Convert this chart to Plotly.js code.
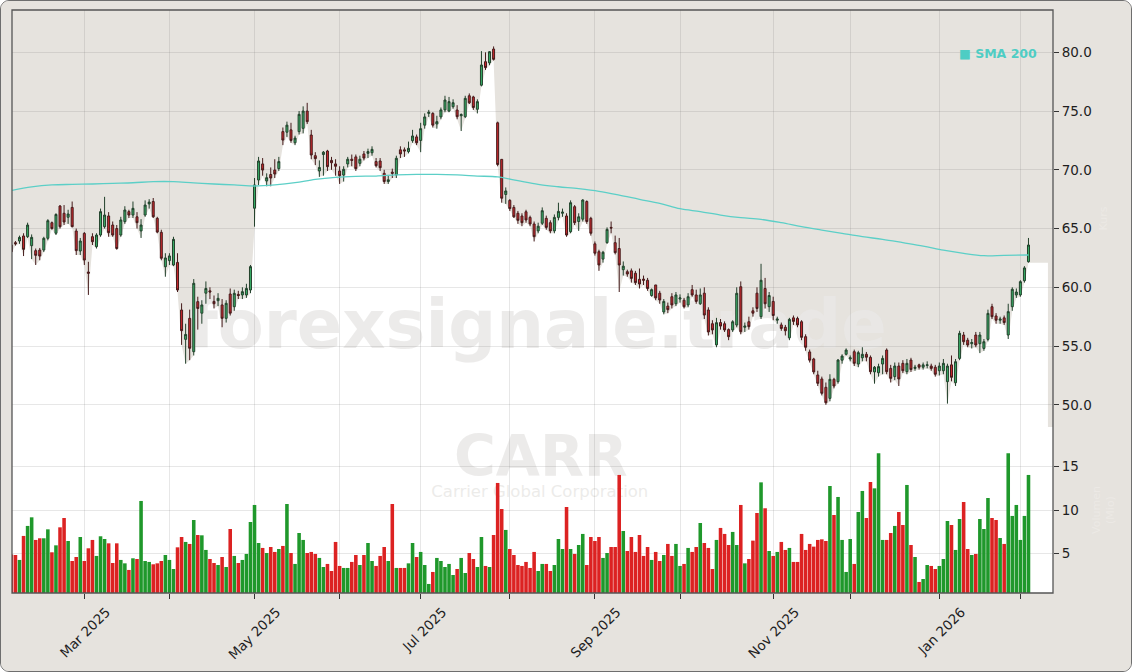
<!DOCTYPE html>
<html><head><meta charset="utf-8">
<script src="https://cdn.plot.ly/plotly-3.0.1.min.js"></script>
<style>
html,body{margin:0;padding:0;background:#ffffff;}
#wrap{position:absolute;left:0;top:0;width:1130px;height:670px;border:1px solid #6e6e6e;border-radius:9px;overflow:hidden;background:#e6e3de;}
#chart{width:1130px;height:670px;}
</style></head>
<body><div id="wrap"><div id="chart"></div></div>
<script>
// ---------- DATA ----------
const holidays = ['2025-02-17','2025-04-18','2025-05-26','2025-06-19','2025-07-04','2025-09-01',
  '2025-11-27','2025-12-25','2026-01-01','2026-01-19'];
const firstDay = '2025-02-04';
const lastDay = '2026-02-04';

const open = [63.60,63.80,63.94,64.37,64.31,63.54,63.12,63.17,63.17,64.17,
65.50,64.60,66.92,66.30,65.96,66.80,64.79,63.09,64.59,61.30,
64.31,63.46,64.45,65.16,66.07,65.30,65.00,64.45,65.59,66.44,
66.15,66.00,64.80,66.15,67.10,67.30,65.87,64.68,61.75,62.27,
61.90,62.12,58.07,55.57,57.36,54.52,58.78,57.80,59.50,59.70,
58.80,58.86,58.50,57.36,59.43,58.35,59.40,59.35,59.35,59.77,
66.73,69.13,70.50,69.05,69.60,69.98,70.10,73.25,73.20,73.40,
72.30,73.25,73.53,75.00,72.96,71.20,69.90,71.30,71.60,70.80,
70.50,69.90,69.55,70.50,70.90,71.10,70.55,71.35,71.40,71.45,
70.70,70.75,69.70,69.00,69.80,69.56,71.70,71.70,71.55,72.48,
72.80,72.50,73.80,74.80,74.80,73.90,74.50,75.10,75.00,75.37,
75.09,74.60,74.52,76.30,76.20,75.15,77.20,79.20,79.10,80.28,
74.00,70.89,67.90,67.40,66.80,66.30,66.07,66.43,65.95,65.39,
64.80,65.45,65.87,65.50,64.80,65.95,66.30,66.07,64.73,66.86,
65.60,65.80,67.30,65.87,63.70,63.03,62.40,63.80,65.10,63.80,
63.30,61.50,61.33,61.40,61.20,60.68,60.70,60.60,59.30,60.20,
59.50,57.90,58.40,59.20,58.60,59.00,58.90,58.50,59.80,59.35,
58.60,59.50,58.07,56.90,55.10,57.00,56.90,56.40,56.37,56.79,
60.05,56.60,57.07,58.00,59.50,57.50,59.90,58.35,58.80,57.20,
56.80,56.60,55.70,57.40,57.35,57.07,55.80,54.50,53.90,52.54,
52.20,51.49,50.55,52.17,51.97,53.80,54.30,53.90,54.52,53.47,
54.00,54.30,54.04,52.80,52.73,53.47,54.66,53.10,52.40,53.30,
53.53,52.82,53.81,53.10,53.40,53.20,53.35,53.30,53.20,52.90,
52.90,51.97,53.40,51.88,53.95,55.94,55.50,55.20,55.94,55.20,
54.80,55.57,58.35,57.56,57.20,57.40,55.94,58.35,59.35,59.35,
60.56,62.18];

const high = [63.80,63.94,64.40,64.60,65.50,64.50,63.30,63.35,64.30,65.80,
65.60,66.30,67.00,67.00,66.60,67.30,65.00,64.20,64.70,62.17,
64.60,64.60,66.70,67.70,66.40,65.60,65.30,66.00,66.90,66.60,
67.30,66.40,65.80,67.40,67.50,67.60,66.00,64.90,62.90,62.90,
64.30,62.90,58.64,56.90,58.10,60.70,59.20,58.90,60.50,60.00,
59.30,59.50,59.00,58.90,59.90,59.80,59.70,60.00,60.30,61.90,
69.30,71.10,71.00,69.70,70.20,70.90,71.10,73.60,74.10,74.00,
72.90,75.00,75.40,75.70,73.40,71.50,70.80,71.60,71.70,71.10,
70.90,70.30,70.30,71.10,71.30,71.30,71.20,71.60,71.80,72.00,
71.00,71.00,70.00,69.50,70.10,71.20,72.00,71.90,72.40,73.40,
73.00,74.00,74.80,75.10,74.90,74.60,75.30,76.30,76.20,76.00,
75.50,74.80,76.30,76.50,76.30,76.00,80.10,80.00,80.10,80.50,
74.10,70.90,68.50,67.50,67.00,66.50,66.30,66.60,66.10,65.60,
65.50,66.80,66.10,65.70,66.20,67.20,66.70,66.30,67.40,67.00,
66.30,67.50,67.40,66.00,63.90,63.20,63.10,65.10,65.60,64.40,
64.20,62.20,61.50,61.60,61.40,61.60,61.00,60.80,59.90,60.20,
59.70,59.00,58.70,59.50,59.60,59.40,59.10,59.50,60.20,59.80,
59.90,60.00,58.30,57.20,57.40,57.30,57.10,56.50,57.20,60.00,
60.50,57.00,57.50,58.30,60.00,62.00,60.80,59.60,59.20,57.50,
57.00,56.80,57.40,57.60,57.50,57.20,56.00,54.70,54.00,52.90,
52.40,51.90,52.60,52.30,53.90,54.30,54.80,54.20,54.70,54.60,
54.90,54.50,54.20,53.30,53.50,54.20,54.80,53.40,53.60,53.60,
53.80,53.90,54.00,53.40,53.50,53.60,53.70,53.50,53.40,53.60,
53.90,53.50,54.20,53.90,56.30,56.20,55.70,55.60,56.20,56.20,
55.60,58.10,58.60,57.80,57.50,57.60,58.60,60.00,59.90,60.60,
61.80,64.20];

const low = [62.89,63.55,63.70,62.66,64.20,62.40,61.90,62.30,63.00,64.00,
64.90,64.45,65.00,65.30,65.40,65.10,62.75,62.75,61.90,59.35,
63.60,63.30,64.30,65.00,64.30,64.30,63.20,64.30,65.40,65.90,
65.90,65.00,64.20,66.00,66.70,65.90,64.60,62.30,60.90,61.90,
61.80,59.60,55.10,53.50,53.80,54.20,56.40,56.90,58.60,59.00,
58.20,58.40,56.60,57.00,57.60,58.00,59.00,59.00,59.10,59.50,
65.16,68.70,69.50,68.60,68.60,69.30,69.90,72.10,72.80,72.30,
72.10,73.00,73.10,73.90,70.90,70.40,69.40,69.50,69.90,70.00,
69.50,68.80,69.00,70.20,70.30,69.90,70.30,70.80,71.00,71.20,
70.20,69.90,68.80,68.80,69.30,69.30,71.00,71.10,71.40,72.30,
72.10,71.50,73.50,74.50,73.60,73.50,74.30,74.90,74.90,75.20,
74.30,73.30,74.40,75.60,75.10,74.80,77.10,78.50,78.90,79.30,
70.30,67.20,67.10,66.50,65.90,65.40,65.20,65.50,65.20,63.90,
64.60,65.30,64.90,64.60,64.60,65.70,66.00,64.30,64.60,65.30,
64.80,65.60,65.40,64.40,62.70,61.40,62.10,63.70,64.60,62.80,
59.60,61.00,60.90,60.40,60.20,59.90,60.20,59.70,59.20,58.90,
58.60,57.70,57.80,58.20,58.40,58.70,58.20,58.30,59.20,58.60,
58.50,57.30,55.90,56.00,54.90,56.40,56.20,55.50,56.20,56.60,
56.00,56.20,56.40,57.50,57.90,57.30,58.20,57.90,57.20,56.90,
56.30,55.90,55.50,56.80,56.60,55.50,54.60,53.60,52.60,51.60,
50.80,50.00,50.30,51.40,51.80,53.50,54.20,53.70,53.30,53.20,
53.70,53.70,52.60,51.80,52.40,52.60,52.60,51.90,52.10,51.60,
52.70,52.60,52.80,52.90,53.00,53.00,53.10,52.90,52.40,52.50,
52.60,50.10,52.00,51.60,53.80,55.10,54.90,54.80,54.90,54.40,
54.60,55.40,57.30,56.90,56.90,56.80,55.60,58.00,59.10,59.20,
60.40,62.10];

const close = [63.03,63.70,64.25,63.23,65.30,64.25,62.72,62.66,64.17,65.67,
65.00,66.20,65.16,65.56,66.24,65.16,63.12,63.94,62.32,61.20,
63.88,64.45,66.44,66.15,64.65,64.45,63.30,65.73,66.58,66.15,
66.72,65.50,65.30,67.00,67.25,66.00,64.70,62.47,62.50,62.67,
64.08,59.77,56.31,55.99,54.81,60.34,58.20,58.50,59.90,59.60,
58.60,59.06,57.36,58.64,57.80,59.49,59.30,59.63,59.90,61.76,
68.71,70.75,69.98,69.33,69.30,69.64,70.70,72.53,73.80,72.50,
72.70,74.72,75.00,74.10,71.26,70.95,70.20,71.50,70.27,70.60,
70.30,69.50,70.04,70.90,70.80,70.10,70.90,71.00,71.55,71.74,
70.35,70.18,69.00,69.15,69.70,70.98,71.35,71.60,71.83,72.88,
72.30,73.50,74.50,74.90,73.80,74.10,75.10,75.94,75.80,75.71,
74.52,74.70,76.08,75.70,75.30,75.80,78.92,78.70,80.05,79.40,
70.45,67.58,68.20,66.70,66.00,65.70,65.50,65.73,65.39,64.31,
65.20,66.52,65.10,64.80,65.95,66.46,66.40,64.45,67.20,65.50,
66.00,67.43,65.60,64.60,62.90,61.90,62.98,64.93,65.05,62.95,
61.90,61.80,61.13,60.76,60.40,60.28,60.60,59.90,59.80,59.10,
58.92,58.80,58.10,58.50,59.35,59.10,58.35,59.20,59.35,58.80,
59.35,57.64,56.20,56.37,56.99,56.70,56.37,55.80,57.07,59.49,
56.22,56.70,56.65,57.80,58.20,60.60,58.60,59.30,57.60,57.30,
56.50,56.30,57.27,57.10,56.80,55.74,54.90,53.80,52.80,51.83,
50.98,50.18,52.17,51.60,53.81,54.15,54.66,54.00,53.53,54.44,
54.30,54.05,52.82,53.20,53.25,53.95,52.82,52.25,53.30,52.20,
52.90,53.53,53.00,53.20,53.20,53.40,53.40,53.10,52.60,53.30,
53.53,53.30,52.34,53.67,56.08,55.37,55.09,55.30,55.09,55.94,
55.37,57.78,57.50,57.20,57.30,57.00,57.93,59.83,59.60,60.48,
61.65,63.60];

// volume in millions
const volume = [4.90,4.85,4.28,7.04,8.19,9.18,6.58,6.77,6.77,7.80,
5.16,5.96,8.03,9.10,6.46,4.16,4.62,6.92,4.16,5.62,
6.58,4.74,7.00,6.69,6.19,3.93,6.19,4.28,3.89,3.13,
4.47,4.39,11.06,4.16,4.05,3.78,3.89,4.16,4.85,4.28,
3.24,5.73,6.92,6.35,6.12,8.87,7.15,7.11,5.43,4.39,
3.93,3.70,4.62,3.47,7.84,4.74,3.93,4.28,4.97,8.64,
10.60,6.23,5.66,5.08,5.77,5.20,5.54,5.89,10.71,5.08,
3.82,7.38,6.58,5.08,5.20,4.97,4.51,3.47,3.82,3.01,
6.35,3.59,3.36,3.36,4.05,4.85,3.70,4.85,6.23,4.16,
3.59,4.74,5.77,4.16,10.71,3.36,3.36,3.36,3.89,6.23,
4.62,5.20,3.70,1.52,2.90,4.51,4.16,3.47,3.82,2.55,
3.24,4.51,2.78,5.08,4.39,3.47,6.92,3.59,3.47,7.15,
13.13,10.14,7.73,5.54,4.85,3.70,3.59,4.05,3.36,5.20,
3.01,3.82,3.82,3.01,3.70,6.69,5.54,10.37,5.54,4.97,
6.00,7.27,3.70,6.92,6.46,6.92,4.51,5.08,5.77,5.77,
14.05,7.61,5.31,6.92,5.20,7.15,4.74,5.77,4.28,5.20,
4.16,4.85,6.12,4.74,6.12,3.59,3.82,5.66,5.20,5.77,
8.53,6.23,5.66,3.24,6.58,7.96,7.27,6.00,7.50,6.00,
10.60,3.89,4.39,6.50,9.68,13.20,10.22,5.31,4.74,5.20,
6.35,5.43,5.66,4.05,4.05,7.27,5.43,6.12,5.81,6.58,
6.65,6.46,12.78,9.45,11.52,6.58,2.90,6.69,3.82,9.79,
12.21,9.10,13.24,12.51,16.54,6.58,6.58,7.38,8.19,9.79,
8.30,12.90,6.00,4.62,1.75,2.09,3.70,3.59,3.24,3.59,
4.39,8.76,8.30,5.43,8.99,10.94,5.54,4.85,4.97,8.99,
7.84,11.40,9.10,8.87,6.80,6.12,16.54,9.34,10.60,6.58,
9.34,14.05];

// SMA 200 read at sampled trading-day positions
const smaAt = [0,5,10,15,20,25,30,35,40,45,50,55,60,65,70,75,80,85,90,95,100,105,110,115,120,
  125,130,135,140,145,150,155,160,165,170,175,180,185,190,195,200,205,210,215,220,225,230,235,240,245,251];
const sma200 = [68.24,68.54,68.71,68.76,68.79,68.85,68.90,68.99,68.99,68.88,68.79,68.71,68.62,68.71,68.90,
  69.19,69.36,69.44,69.47,69.56,69.61,69.61,69.56,69.47,69.39,69.07,68.76,68.56,68.39,68.17,67.85,67.49,
  67.15,66.69,66.44,66.15,65.93,65.78,65.50,65.16,64.87,64.59,64.31,64.08,63.80,63.51,63.17,62.89,62.69,
  62.72,62.75];

const monthLabels = ['Mar 2025','','May 2025','','Jul 2025','','Sep 2025','','Nov 2025','','Jan 2026',''];
const priceTicks = [50,55,60,65,70,75,80];
const volumeTicks = [5,10,15];

// ---------- BUILD ----------
function tradingDays(a, b, skip) {
  const out = [];
  const d = new Date(a + 'T00:00:00Z');
  const end = new Date(b + 'T00:00:00Z');
  while (d <= end) {
    const wd = d.getUTCDay();
    const iso = d.toISOString().slice(0, 10);
    if (wd !== 0 && wd !== 6 && skip.indexOf(iso) < 0) out.push(iso);
    d.setUTCDate(d.getUTCDate() + 1);
  }
  return out;
}
const allDays = tradingDays(firstDay, lastDay, holidays);
const n = Math.min(allDays.length, open.length);
const dates = allDays.slice(0, n);

const monthStarts = [];
for (let i = 1; i < dates.length; i++) {
  if (dates[i].slice(0, 7) !== dates[i - 1].slice(0, 7)) monthStarts.push(dates[i]);
}

const GREEN_BAR = '#1f982b', RED_BAR = '#dc2222';
const volColors = dates.map((_, i) => close[i] >= open[i] ? GREEN_BAR : RED_BAR);

const xr = [0.15, 257.05];
const split = 0.2847;
const priceRange = [48.11, 83.60];
const volRange = [0.48, 19.56];
const yA1 = priceRange[1];
const yA0 = priceRange[1] - (priceRange[1] - priceRange[0]) / (1 - split);
const fx = f => xr[0] + f * (xr[1] - xr[0]);
const fy = f => yA0 + f * (yA1 - yA0);

const idx = dates.map((_, i) => i);
const lowsShown = low.slice(0, n);
const fillX = idx.concat([n - 1 + 4.8]);
const fillY = lowsShown.concat([lowsShown[n - 1]]);

const gridC = 'rgba(110,110,110,0.17)';
const wmC = 'rgba(233,232,230,0.85)';

const traces = [
  { // white area under the lows
    type: 'scatter', mode: 'lines', x: fillX, y: fillY, xaxis: 'x', yaxis: 'y',
    fill: 'tozeroy', fillcolor: '#ffffff', line: { width: 0, color: '#ffffff' }, hoverinfo: 'skip'
  },
  {
    type: 'scatter', mode: 'text', x: [fx(0.505)], y: [fy(0.449)], xaxis: 'x', yaxis: 'y',
    text: ['forexsignale.trade'], textposition: 'middle center',
    textfont: { family: 'DejaVu Sans', size: 67, color: wmC, weight: 'bold' }, hoverinfo: 'skip'
  },
  {
    type: 'scatter', mode: 'text', x: [fx(0.508)], y: [fy(0.225)], xaxis: 'x', yaxis: 'y',
    text: ['CARR'], textposition: 'middle center',
    textfont: { family: 'DejaVu Sans', size: 57, color: wmC, weight: 'bold' }, hoverinfo: 'skip'
  },
  {
    type: 'scatter', mode: 'text', x: [fx(0.507)], y: [fy(0.172)], xaxis: 'x', yaxis: 'y',
    text: ['Carrier Global Corporation'], textposition: 'middle center',
    textfont: { family: 'DejaVu Sans', size: 16.5, color: wmC }, hoverinfo: 'skip'
  },
  {
    type: 'candlestick', x: dates, open: open, high: high, low: low, close: close,
    xaxis: 'x2', yaxis: 'y2', hoverinfo: 'skip',
    increasing: { fillcolor: '#38ad66', line: { color: '#22402b', width: 1 } },
    decreasing: { fillcolor: '#c8282d', line: { color: '#451b1b', width: 1 } },
    whiskerwidth: 0
  },
  {
    type: 'scatter', mode: 'lines', x: smaAt.map(i => dates[i]), y: sma200,
    xaxis: 'x2', yaxis: 'y2', line: { color: '#5ccfc7', width: 1.3, shape: 'spline' }, hoverinfo: 'skip'
  },
  {
    type: 'bar', x: dates, y: volume.slice(0, n), xaxis: 'x2', yaxis: 'y3',
    marker: { color: volColors, line: { width: 0 } }, hoverinfo: 'skip'
  }
];

const tickFont = { family: 'DejaVu Sans', size: 13.5, color: '#1e1e1e' };

const layout = {
  width: 1130, height: 670,
  margin: { l: 11, r: 78, t: 9, b: 78 },
  paper_bgcolor: '#e6e3de',
  plot_bgcolor: 'rgba(0,0,0,0)',
  showlegend: false,
  bargap: 0.12,
  font: { family: 'DejaVu Sans', color: '#1e1e1e' },
  xaxis: { type: 'linear', range: xr, domain: [0, 1], anchor: 'y', visible: false, fixedrange: true },
  yaxis: { range: [yA0, yA1], domain: [0, 1], anchor: 'x', visible: false, fixedrange: true },
  xaxis2: {
    type: 'category', range: xr, domain: [0, 1], anchor: 'y3',
    tickmode: 'array', tickvals: monthStarts, ticktext: monthLabels.slice(0, monthStarts.length),
    tickangle: -45, ticks: 'outside', ticklen: 5, tickcolor: '#333', tickwidth: 1,
    tickfont: tickFont, ticklabelshift: 22,
    showgrid: true, gridcolor: gridC, gridwidth: 1, showline: false, zeroline: false,
    rangeslider: { visible: false }, fixedrange: true
  },
  yaxis2: {
    domain: [split, 1], anchor: 'x2', side: 'right', range: priceRange,
    tickmode: 'array', tickvals: priceTicks, tickformat: '.1f',
    ticks: 'outside', ticklen: 5, tickcolor: '#333', tickfont: tickFont,
    showgrid: true, gridcolor: gridC, zeroline: false, showline: false, fixedrange: true,
    title: { text: 'Kurs', font: { size: 11, color: '#ece9e5' }, standoff: 8 }
  },
  yaxis3: {
    domain: [0, split], anchor: 'x2', side: 'right', range: volRange,
    tickmode: 'array', tickvals: volumeTicks,
    ticks: 'outside', ticklen: 5, tickcolor: '#333', tickfont: tickFont,
    showgrid: true, gridcolor: gridC, zeroline: false, showline: false, fixedrange: true,
    title: { text: 'Volumen<br>(Mio)', font: { size: 11, color: '#ece9e5' }, standoff: 14 }
  },
  shapes: [
    { type: 'rect', xref: 'paper', yref: 'paper', x0: 0, x1: 1, y0: 0, y1: split,
      fillcolor: '#ffffff', line: { width: 0 }, layer: 'below' },
    { type: 'rect', xref: 'paper', yref: 'paper', x0: 0, x1: 1, y0: 0, y1: 1,
      fillcolor: 'rgba(0,0,0,0)', line: { color: '#555555', width: 1.3 }, layer: 'above' }
  ],
  annotations: [
    { xref: 'paper', yref: 'paper', x: 0.9865, y: 0.926, xanchor: 'right', yanchor: 'middle',
      text: '■ SMA 200', showarrow: false,
      font: { family: 'DejaVu Sans', size: 12.5, color: '#4ecdc4', weight: 'bold' } }
  ]
};

Plotly.newPlot('chart', traces, layout, { displayModeBar: false, staticPlot: true });
</script></body></html>
